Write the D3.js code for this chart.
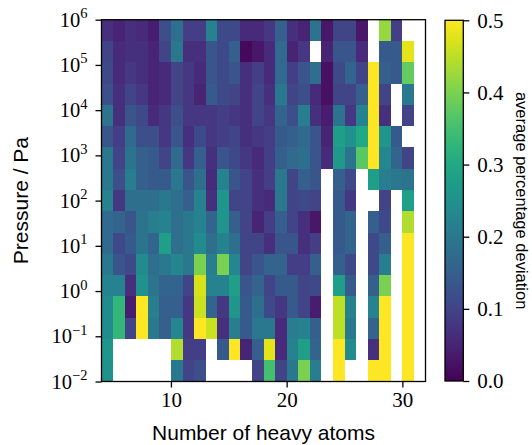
<!DOCTYPE html>
<html><head><meta charset="utf-8">
<script src="https://cdn.jsdelivr.net/npm/d3@7/dist/d3.min.js"></script>
<style>
body{margin:0;background:#fff}
svg{display:block}
.tick text{font-family:"Liberation Serif",serif;}
</style>
</head><body>
<svg id="chart" width="532" height="445"></svg>
<script>
// ---------------- data ----------------
// heavy-atom counts (one column per integer, bin [n, n+1])
const atoms = [4,5,6,7,8,9,10,11,12,13,14,15,16,17,18,19,20,21,22,23,24,25,26,27,28,29,30];
// log10 pressure bin edges (17 bins from 1e-2 to 1e6)
const logPressureEdges = [-2,-1.5294,-1.0588,-0.5882,-0.1176,0.3529,0.8235,1.2941,1.7647,2.2353,2.7059,3.1765,3.6471,4.1176,4.5882,5.0588,5.5294,6];
const xTickValues = [10,20,30];
const yTickExponents = [-2,-1,0,1,2,3,4,5,6];
const colorbarTicks = [0.0,0.1,0.2,0.3,0.4,0.5];
// average percentage deviation; rows from the highest pressure bin (top) to lowest (bottom); null = no data
const deviation = [
 [0.07,0.05,0.07,0.06,0.04,0.12,0.18,0.09,0.09,0.22,0.11,0.11,0.06,0.06,0.08,0.15,0.07,0.05,0.19,0.03,0.10,0.10,0.03,null,0.42,0.09,null],
 [0.10,0.06,0.07,0.07,0.05,0.10,0.20,0.07,0.07,0.13,0.11,0.15,0.01,0.03,0.06,0.17,0.05,0.08,null,0.05,0.13,0.13,0.06,null,0.14,0.14,0.48],
 [0.11,0.06,0.08,0.07,0.05,0.06,0.10,0.08,0.06,0.13,0.11,0.13,0.07,0.09,0.06,0.17,0.09,0.13,0.18,0.02,0.11,0.16,0.10,0.50,0.15,0.14,0.38],
 [0.12,0.07,0.10,0.08,0.05,0.06,0.10,0.08,0.05,0.14,0.11,0.10,0.07,0.10,0.07,0.20,0.10,0.12,0.06,0.02,0.10,0.10,0.15,0.50,0.10,null,0.20],
 [0.19,0.07,0.13,0.11,0.06,0.08,0.12,0.08,0.08,0.08,0.09,0.08,0.07,0.10,0.08,0.16,0.12,0.21,0.07,0.04,0.19,0.08,0.22,0.50,0.07,null,0.10],
 [0.13,0.09,0.17,0.12,0.12,0.08,0.13,0.07,0.11,0.08,0.09,0.10,0.07,0.08,0.09,0.14,0.15,0.17,0.13,0.05,0.28,0.25,0.30,0.50,0.26,0.14,null],
 [0.20,0.10,0.19,0.15,0.14,0.10,0.17,0.08,0.15,0.07,0.13,0.11,0.08,0.06,0.09,0.15,0.17,0.18,0.13,0.06,0.27,0.19,0.37,0.50,0.23,0.16,0.10],
 [0.20,0.12,0.21,0.15,0.14,0.14,0.20,0.13,0.18,0.06,0.22,0.13,0.10,0.07,0.09,0.20,0.10,0.15,0.13,null,0.15,0.11,null,0.28,0.21,0.20,0.19],
 [0.22,0.08,0.18,0.18,0.18,0.20,0.18,0.15,0.22,0.07,0.26,0.10,0.10,0.07,0.06,0.20,0.10,0.11,0.10,null,0.14,0.08,null,null,0.10,null,0.28],
 [0.17,0.16,0.13,0.19,0.21,0.22,0.18,0.20,0.22,0.16,0.26,0.15,0.10,0.05,0.09,0.15,0.10,0.07,0.03,null,0.14,0.16,null,0.15,0.11,null,0.44],
 [0.17,0.11,0.14,0.19,0.16,0.28,0.18,0.20,0.24,0.18,0.22,0.18,0.10,0.10,0.07,0.13,0.13,0.07,0.09,null,0.14,0.16,null,0.11,0.15,null,0.50],
 [0.20,0.13,0.11,0.24,0.18,0.20,0.23,0.20,0.40,0.21,0.40,0.23,0.10,0.13,0.16,0.16,0.09,0.09,0.15,null,0.15,0.11,null,0.11,0.21,null,0.50],
 [0.22,0.22,0.07,0.25,0.19,0.16,0.16,0.10,0.47,0.22,0.22,0.28,0.13,0.16,0.10,0.14,0.14,0.10,0.11,null,0.28,0.14,null,0.15,0.40,null,0.50],
 [0.24,0.33,0.04,0.50,0.21,0.15,0.15,0.08,0.46,0.16,0.08,0.26,0.14,0.18,0.11,0.08,0.14,0.10,0.04,null,0.45,0.22,null,0.22,0.50,null,0.50],
 [0.24,0.33,0.10,0.50,0.20,0.15,0.23,0.08,0.50,0.46,0.07,0.21,0.14,0.20,0.20,0.06,0.21,0.22,0.15,null,0.45,0.20,null,0.16,0.50,null,0.50],
 [0.26,null,null,null,null,null,0.44,0.09,0.09,null,0.14,0.50,0.05,0.15,0.48,0.06,0.22,0.28,0.16,null,0.50,0.24,null,0.07,0.50,null,0.50],
 [0.25,null,null,null,null,null,0.20,0.10,0.12,null,null,null,null,0.10,0.35,0.10,0.20,0.40,0.21,null,0.50,null,null,0.50,0.50,null,0.50]
];

// ---------------- layout ----------------
const svg = d3.select("#chart");
const L = 101.5, R = 425.5, T = 19.7, B = 381.5;
const x = d3.scaleLinear().domain([4, 32]).range([L, R]);
const y = d3.scaleLog().domain([1e-2, 1e6]).range([B, T]);
const color = d3.scaleSequential(d3.interpolateViridis).domain([0, 0.5]).clamp(true);

const cells = [];
deviation.forEach((row, r) => {
  const nb = deviation.length;
  const lo = Math.pow(10, logPressureEdges[nb - 1 - r]);
  const hi = Math.pow(10, logPressureEdges[nb - r]);
  row.forEach((v, c) => {
    if (v !== null) cells.push({a: atoms[c], lo, hi, v});
  });
});

svg.append("g").attr("shape-rendering", "crispEdges")
  .selectAll("rect").data(cells).join("rect")
  .attr("x", d => x(d.a))
  .attr("width", d => x(d.a + 1) - x(d.a))
  .attr("y", d => y(d.hi))
  .attr("height", d => y(d.lo) - y(d.hi))
  .attr("fill", d => color(d.v));

// frame
svg.append("rect").attr("x", L).attr("y", T).attr("width", R - L).attr("height", B - T)
  .attr("fill", "none").attr("stroke", "#000").attr("stroke-width", 1.3);

// x axis
const gx = svg.append("g").attr("transform", `translate(0,${B})`)
  .call(d3.axisBottom(x).tickValues(xTickValues).tickSize(6).tickPadding(5).tickFormat(d3.format("d")));
gx.select(".domain").remove();
gx.selectAll(".tick line").attr("stroke-width", 1.3);
gx.selectAll(".tick text").attr("font-size", 21).attr("fill", "#000");

// y axis
const gy = svg.append("g").attr("transform", `translate(${L},0)`)
  .call(d3.axisLeft(y).tickValues(yTickExponents.map(e => Math.pow(10, e))).tickSize(6).tickFormat(""));
gy.select(".domain").remove();
gy.selectAll(".tick line").attr("stroke-width", 1.3);
gy.selectAll(".tick").each(function(d) {
  const e = Math.round(Math.log10(d));
  const t = d3.select(this).append("text")
    .attr("x", -14).attr("y", 6.5)
    .attr("text-anchor", "end").attr("fill", "#000")
    .attr("font-family", "Liberation Serif, serif").attr("font-size", 20.5);
  t.append("tspan").text("10");
  t.append("tspan").attr("dy", -8.5).attr("font-size", 14.5).text(e < 0 ? "\u2212" + (-e) : String(e));
});

// axis labels
svg.append("text").attr("x", (L + R) / 2).attr("y", 439.5).attr("text-anchor", "middle")
  .attr("font-family", "Liberation Sans, Arial, sans-serif").attr("font-size", 21).text("Number of heavy atoms");
svg.append("text").attr("transform", `translate(27.5,${(T + B) / 2}) rotate(-90)`).attr("text-anchor", "middle")
  .attr("font-family", "Liberation Sans, Arial, sans-serif").attr("font-size", 21).text("Pressure / Pa");

// colorbar
const cbL = 445, cbW = 18.3, cbT = 20.3, cbB = 381;
const cb = d3.scaleLinear().domain([0, 0.5]).range([cbB, cbT]);
const grad = svg.append("defs").append("linearGradient").attr("id", "vir")
  .attr("x1", 0).attr("y1", 1).attr("x2", 0).attr("y2", 0);
d3.range(0, 1.0001, 0.05).forEach(t => grad.append("stop").attr("offset", t).attr("stop-color", d3.interpolateViridis(t)));
svg.append("rect").attr("x", cbL).attr("y", cbT).attr("width", cbW).attr("height", cbB - cbT).attr("fill", "url(#vir)");
svg.append("rect").attr("x", cbL).attr("y", cbT).attr("width", cbW).attr("height", cbB - cbT)
  .attr("fill", "none").attr("stroke", "#000").attr("stroke-width", 1.3);
const gc = svg.append("g").attr("transform", `translate(${cbL + cbW},0)`)
  .call(d3.axisRight(cb).tickValues(colorbarTicks).tickSize(6).tickPadding(8).tickFormat(d3.format(".1f")));
gc.select(".domain").remove();
gc.selectAll(".tick line").attr("stroke-width", 1.3);
gc.selectAll(".tick text").attr("font-size", 21).attr("fill", "#000");
svg.append("text").attr("transform", `translate(516,${(cbT + cbB) / 2}) rotate(90)`).attr("text-anchor", "middle")
  .attr("font-family", "Liberation Sans, Arial, sans-serif").attr("font-size", 16.5).text("average percentage deviation");
</script>
</body></html>
